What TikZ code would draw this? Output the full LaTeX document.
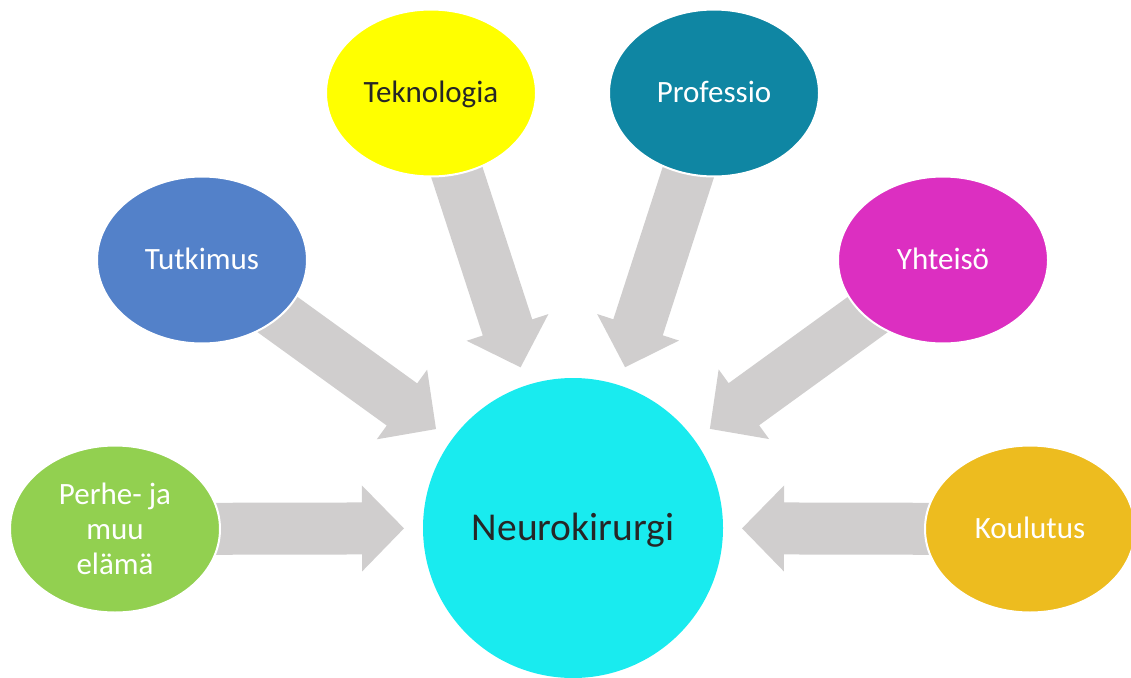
\documentclass[tikz,border=0pt]{standalone}
\usepackage{fontspec}
\setmainfont{Carlito}
\usetikzlibrary{shapes.geometric,calc,backgrounds}

\definecolor{hubcyan}{HTML}{19EBEF}
\definecolor{lifegreen}{HTML}{92D050}
\definecolor{researchblue}{HTML}{5381C9}
\definecolor{techyellow}{HTML}{FFFF00}
\definecolor{profteal}{HTML}{0F86A3}
\definecolor{commmagenta}{HTML}{DC2FC1}
\definecolor{eduamber}{HTML}{EDBC1F}
\definecolor{arrowgray}{HTML}{D0CECE}
\definecolor{darktext}{HTML}{262626}

\tikzset{
  bubble/.style={ellipse, draw=white, line width=2pt, minimum width=210pt,
    minimum height=167pt, inner sep=0pt, text=white, align=center,
    font=\fontsize{31}{35}\selectfont},
  oneline/.style={text height=23pt, text depth=5pt},
  hub/.style={circle, minimum size=300pt, inner sep=0pt, fill=hubcyan,
    text=darktext, font=\fontsize{39.5}{44}\selectfont,
    text height=30pt, text depth=6pt},
  feed/.style={fill=arrowgray},
}

% block arrow from the centre of node #1 towards node #2, stopping short of it
\newcommand\feedarrow[2]{%
  \path ($(#2.center)!169pt!(#1.center)$) coordinate (#1-tip);
  \path ($(#1-tip)!42pt!(#1.center)$) coordinate (#1-neck);
  \fill[feed] ($(#1.center)!26pt!90:(#1-tip)$)
    -- ($(#1-neck)!26pt!90:(#1-tip)$)
    -- ($(#1-neck)!43pt!90:(#1-tip)$)
    -- (#1-tip)
    -- ($(#1-neck)!43pt!-90:(#1-tip)$)
    -- ($(#1-neck)!26pt!-90:(#1-tip)$)
    -- ($(#1.center)!26pt!-90:(#1-tip)$)
    -- cycle;
}

\begin{document}
\begin{tikzpicture}[x=1pt,y=-1pt]
\useasboundingbox (0,0) rectangle (1131,677);

\node[hub] (hub) at (573,528) {Neurokirurgi};

\node[bubble, fill=lifegreen] (life) at (115,529) {Perhe- ja\\muu\\elämä};
\node[bubble, oneline, fill=researchblue] (research) at (202,260) {Tutkimus};
\node[bubble, oneline, fill=techyellow, text=darktext] (tech) at (431,93) {Teknologia};
\node[bubble, oneline, fill=profteal] (prof) at (714,93) {Professio};
\node[bubble, oneline, fill=commmagenta] (comm) at (943,260) {Yhteisö};
\node[bubble, oneline, fill=eduamber] (edu) at (1030,529) {Koulutus};

\begin{pgfonlayer}{background}
  \feedarrow{life}{hub}
  \feedarrow{research}{hub}
  \feedarrow{tech}{hub}
  \feedarrow{prof}{hub}
  \feedarrow{comm}{hub}
  \feedarrow{edu}{hub}
\end{pgfonlayer}
\end{tikzpicture}
\end{document}
